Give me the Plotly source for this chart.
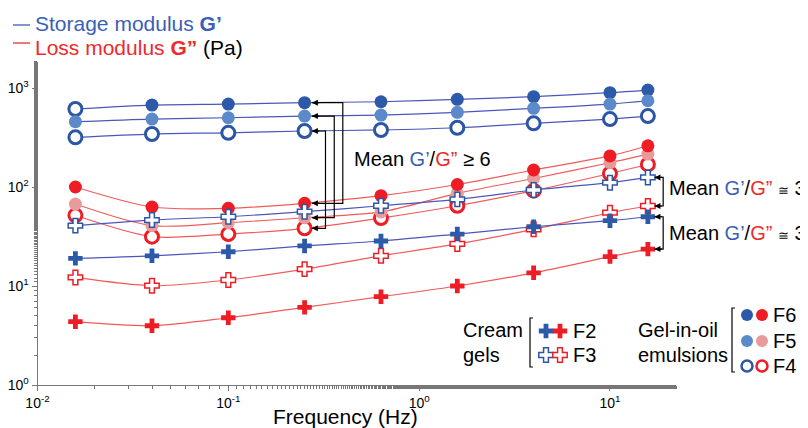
import numpy as np
import plotly.graph_objects as go

# ---------------- data ----------------
freq = [0.0158, 0.0398, 0.1, 0.251, 0.631, 1.585, 3.98, 10.0, 15.8]

F6_Gp  = [614, 673, 689, 711, 727, 769, 817, 897, 954]
F5_Gp  = [457, 486, 501, 521, 533, 568, 624, 689, 744]
F4_Gp  = [318, 343, 353, 368, 377, 397, 440, 486, 521]
F6_Gpp = [100, 62.8, 61, 68.5, 81.7, 106, 148.5, 206, 261]
F5_Gpp = [67.3, 40.7, 43.6, 49, 56, 86.4, 122, 176, 215]
F4_Gpp = [51.8, 31.5, 33.5, 38.3, 48.6, 64.7, 91.8, 137, 169]
F3_Gp  = [40.7, 46.4, 50.1, 56.3, 64.7, 75.1, 93.3, 110.6, 125]
F2_Gp  = [19.0, 20.2, 22.2, 25.4, 28.5, 33.5, 39.7, 45.7, 50.1]
F3_Gpp = [12.2, 10.07, 11.5, 14.8, 20.2, 26.6, 37.4, 55.0, 64.3]
F2_Gpp = [4.36, 3.97, 4.78, 6.09, 7.8, 10.0, 13.6, 19.8, 23.6]

x_tickvals = [0.01, 0.1, 1, 10]
x_ticktext = ["10<sup>-2</sup>", "10<sup>-1</sup>", "10<sup>0</sup>", "10<sup>1</sup>"]
y_tickvals = [1, 10, 100, 1000]
y_ticktext = ["10<sup>0</sup>", "10<sup>1</sup>", "10<sup>2</sup>", "10<sup>3</sup>"]

# ---------------- styles ----------------
BLUE_LINE = "#4b57b8"
RED_LINE = "#f25a5a"
DBLUE = "#2d5aa8"
LBLUE = "#5b89c9"
OBLUE = "#2c55a5"
RED = "#ee1c25"
PINK = "#e99a9a"
FONT = "Arial, Liberation Sans, sans-serif"

fig = go.Figure()

def series(y, line_color, symbol, fill, outline, lw, size, name):
    fig.add_trace(go.Scatter(
        x=freq, y=y, mode="lines", line=dict(color=line_color, width=1.2, shape="spline", smoothing=0.8),
        hoverinfo="skip", showlegend=False))
    return dict(x=freq, y=y, symbol=symbol, fill=fill, outline=outline, lw=lw, size=size, name=name)

marks = []
marks.append(series(F6_Gp, BLUE_LINE, "circle", ["white"] + [DBLUE] * 8, OBLUE, [3] + [0] * 8, 13, "F6 G'"))
marks.append(series(F5_Gp, BLUE_LINE, "circle", LBLUE, LBLUE, 0, 13, "F5 G'"))
marks.append(series(F4_Gp, BLUE_LINE, "circle", "white", OBLUE, 3, 13, "F4 G'"))
marks.append(series(F2_Gpp, RED_LINE, "cross", RED, RED, 0, 12, "F2 G''"))
marks.append(series(F3_Gpp, RED_LINE, "cross", "white", RED, 1.5, 12, "F3 G''"))
marks.append(series(F2_Gp, BLUE_LINE, "cross", DBLUE, DBLUE, 0, 12, "F2 G'"))
marks.append(series(F4_Gpp, RED_LINE, "circle", "white", RED, 3, 13, "F4 G''"))
marks.append(series(F5_Gpp, RED_LINE, "circle", PINK, PINK, 0, 13, "F5 G''"))
marks.append(series(F6_Gpp, RED_LINE, "circle", RED, RED, 0, 13, "F6 G''"))
marks.append(series(F3_Gp, BLUE_LINE, "cross", "white", OBLUE, 1.5, 12, "F3 G'"))

for m in marks:
    fig.add_trace(go.Scatter(
        x=m["x"], y=m["y"], mode="markers", name=m["name"],
        marker=dict(symbol=m["symbol"], size=m["size"], color=m["fill"],
                    line=dict(color=m["outline"], width=m["lw"])),
        showlegend=False, cliponaxis=False))

# ---------------- brackets on data (Mean G'/G'' >= 6) ----------------
idx = 3  # 0.251 Hz
tip_x = 0.274
pairs6 = [(F6_Gp, F6_Gpp, 0.398), (F5_Gp, F5_Gpp, 0.359), (F4_Gp, F4_Gpp, 0.323)]
annotations = []
for gp, gpp, xv in pairs6:
    fig.add_trace(go.Scatter(x=[tip_x, xv, xv, tip_x], y=[gp[idx], gp[idx], gpp[idx], gpp[idx]],
                             mode="lines", line=dict(color="black", width=1.2),
                             hoverinfo="skip", showlegend=False, cliponaxis=False))
    for val in (gp[idx], gpp[idx]):
        annotations.append(dict(x=np.log10(tip_x), y=np.log10(val), xref="x", yref="y",
                                ax=9, ay=0, showarrow=True, text="", arrowhead=2,
                                arrowsize=1, arrowwidth=1.2, arrowcolor="black"))

# right brackets (Mean G'/G'' ~ 3)
idx = 8
tip_r = 17.1
xv_r = 19.0
for gp, gpp in [(F3_Gp, F3_Gpp), (F2_Gp, F2_Gpp)]:
    fig.add_trace(go.Scatter(x=[tip_r, xv_r, xv_r, tip_r], y=[gp[idx], gp[idx], gpp[idx], gpp[idx]],
                             mode="lines", line=dict(color="black", width=1.2),
                             hoverinfo="skip", showlegend=False, cliponaxis=False))
    for val in (gp[idx], gpp[idx]):
        annotations.append(dict(x=np.log10(tip_r), y=np.log10(val), xref="x", yref="y",
                                ax=9, ay=0, showarrow=True, text="", arrowhead=2,
                                arrowsize=1, arrowwidth=1.2, arrowcolor="black"))

# ---------------- overlay pixel-space decorations ----------------
def px_marker(x, y, symbol, fill, outline, lw, size):
    fig.add_trace(go.Scatter(x=[x], y=[y], mode="markers", xaxis="x2", yaxis="y2",
                             marker=dict(symbol=symbol, size=size, color=fill,
                                         line=dict(color=outline, width=lw)),
                             hoverinfo="skip", showlegend=False, cliponaxis=False))

def px_line(xs, ys, color="black", width=1.2):
    fig.add_trace(go.Scatter(x=xs, y=ys, mode="lines", xaxis="x2", yaxis="y2",
                             line=dict(color=color, width=width),
                             hoverinfo="skip", showlegend=False, cliponaxis=False))

def txt(x, y, s, size=20, color="black", anchor="left"):
    annotations.append(dict(x=x, y=y, xref="x2", yref="y2", text=s, showarrow=False,
                            xanchor=anchor, yanchor="middle",
                            font=dict(family=FONT, size=size, color=color)))

# top legend
px_line([13, 30], [25, 25], color="#3a5fb5", width=1.3)
px_line([13, 30], [43, 43], color="#ee2a2a", width=1.3)
txt(33, 23, "Storage modulus <b>G’</b>", color="#3a5fb5", size=21)
txt(33, 47, "Loss modulus <b>G”</b> <span style='color:black'>(Pa)</span>", color="#ee2a2a", size=21)

G1 = "<span style='color:#3a5fb5'>G’</span>/<span style='color:#ee2a2a'>G”</span>"
txt(352, 159, "Mean " + G1 + " ≥ 6")
txt(667, 188, "Mean " + G1 + " <span style='font-size:13px'>≅</span> 3")
txt(667, 233, "Mean " + G1 + " <span style='font-size:13px'>≅</span> 3")

# bottom legend
txt(461, 330, "Cream")
txt(461, 355, "gels")
px_line([533, 530, 530, 533], [318, 318, 367, 367])
px_marker(546, 331, "cross", DBLUE, DBLUE, 0, 12)
px_marker(560, 331, "cross", RED, RED, 0, 12)
px_marker(546, 355, "cross", "white", OBLUE, 1.5, 12)
px_marker(560, 355, "cross", "white", RED, 1.5, 12)
txt(571, 331, "F2")
txt(571, 355, "F3")

txt(636, 330, "Gel-in-oil")
txt(636, 355, "emulsions")
px_line([735, 732, 732, 735], [308, 308, 372, 372])
px_marker(747, 315, "circle", DBLUE, DBLUE, 0, 12)
px_marker(762, 315, "circle", RED, RED, 0, 12)
px_marker(747, 341, "circle", LBLUE, LBLUE, 0, 12)
px_marker(762, 341, "circle", PINK, PINK, 0, 12)
px_marker(747, 366, "circle", "white", OBLUE, 2.5, 11)
px_marker(762, 366, "circle", "white", RED, 2.5, 11)
txt(771, 315, "F6")
txt(771, 341, "F5")
txt(771, 366, "F4")

txt(345, 416, "Frequency (Hz)", size=21, anchor="center")

# The page body has an 8px margin: the figure occupies page pixels 8..808 / 8..428
OFF = 8
W, H = 808 - OFF, 428 - OFF
def fx(p):
    return (p - OFF) / W
def fy(p):
    return (H - (p - OFF)) / H

fig.update_layout(
    width=W, height=H, margin=dict(l=0, r=0, t=0, b=0, autoexpand=False),
    paper_bgcolor="white", plot_bgcolor="rgba(0,0,0,0)",
    font=dict(family=FONT, size=14, color="black"),
    showlegend=False,
    xaxis=dict(type="log", range=[-2, 1.346], domain=[fx(37.5), fx(676)], anchor="y",
               automargin=False,
               showgrid=False, zeroline=False, showline=True, linecolor="#777", linewidth=1,
               ticks="outside", ticklen=5, tickcolor="#777",
               tickvals=x_tickvals, ticktext=x_ticktext, tickfont=dict(size=14),
               minor=dict(ticks="outside", ticklen=3, tickcolor="#777", showgrid=False)),
    yaxis=dict(type="log", range=[0, 3.263], domain=[fy(385), fy(62)], anchor="x",
               automargin=False,
               showgrid=False, zeroline=False, showline=True, linecolor="#777", linewidth=1,
               ticks="outside", ticklen=5, tickcolor="#777",
               tickvals=y_tickvals, ticktext=y_ticktext, tickfont=dict(size=14),
               minor=dict(ticks="outside", ticklen=3, tickcolor="#777", showgrid=False)),
    xaxis2=dict(range=[OFF, 808], domain=[0, 1], anchor="y2", visible=False, fixedrange=True,
                automargin=False),
    yaxis2=dict(range=[428, OFF], domain=[0, 1], anchor="x2", visible=False, fixedrange=True,
                automargin=False),
    annotations=annotations,
)

fig.write_html("out.html")
